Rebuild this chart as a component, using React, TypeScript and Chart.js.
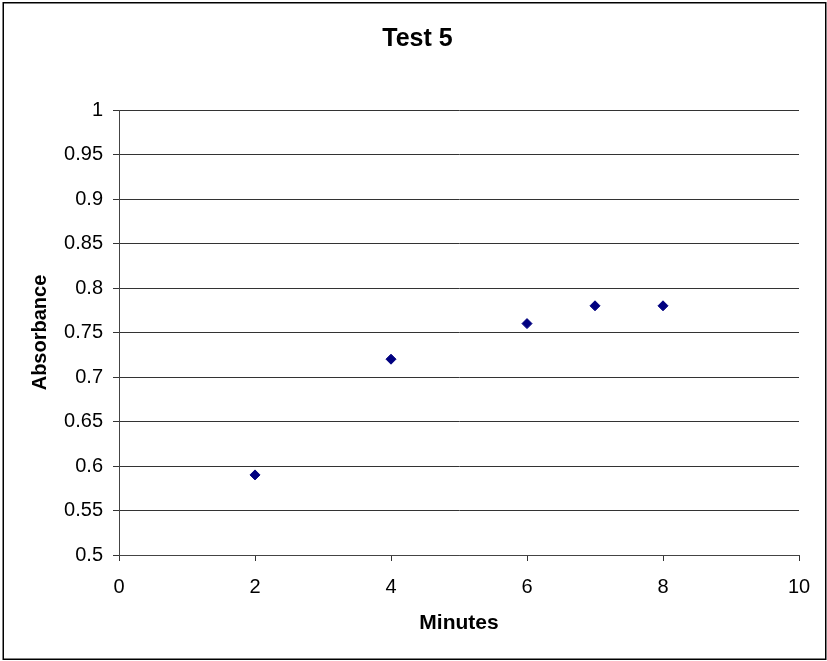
import React, { useEffect, useRef } from "react";
import { Chart, registerables } from "chart.js";

Chart.register(...registerables);

const chartTitle = "Test 5";
const xTitle = "Minutes";
const yTitle = "Absorbance";
const minutes = [2, 4, 6, 7, 8];
const absorbance = [0.59, 0.72, 0.76, 0.78, 0.78];
const xMin = 0;
const xMax = 10;
const xStep = 2;
const yMin = 0.5;
const yMax = 1;
const yStep = 0.05;

const FONT = "'Liberation Sans', Arial, Helvetica, sans-serif";

const borderPlugin = {
  id: "outerBorder",
  afterDraw(chart: any) {
    const ctx = chart.ctx;
    ctx.save();
    ctx.strokeStyle = "#000";
    ctx.lineWidth = 1.5;
    ctx.strokeRect(3.25, 2.75, 822.5, 656.5);
    ctx.restore();
  },
};

export default function App() {
  const ref = useRef<HTMLCanvasElement | null>(null);

  useEffect(() => {
    if (!ref.current) return;
    const chart = new Chart(ref.current, {
      type: "scatter",
      data: {
        datasets: [
          {
            label: yTitle,
            data: minutes.map((m, i) => ({ x: m, y: absorbance[i] })),
            pointStyle: "rectRot",
            pointRadius: 5,
            pointHoverRadius: 5,
            backgroundColor: "#000080",
            borderColor: "#000080",
            borderWidth: 1,
            showLine: false,
          },
        ],
      },
      options: {
        responsive: false,
        animation: false,
        events: [],
        layout: { padding: { left: 8, right: 0, top: 0, bottom: 0 } },
        plugins: {
          legend: { display: false },
          tooltip: { enabled: false },
          title: {
            display: true,
            text: chartTitle,
            color: "#000",
            font: { family: FONT, size: 25, weight: "bold" },
            padding: { top: 24.5, bottom: 55.5 },
          },
        },
        scales: {
          x: {
            type: "linear",
            min: xMin,
            max: xMax,
            afterFit: (s: any) => {
              s.height = 106;
            },
            ticks: {
              stepSize: xStep,
              color: "#000",
              font: { family: FONT, size: 20 },
              padding: 14,
              maxRotation: 0,
            },
            grid: {
              drawOnChartArea: false,
              drawTicks: true,
              tickLength: 6,
              color: "#333",
              lineWidth: 1,
            },
            border: { display: true, color: "#444", width: 1 },
            title: {
              display: true,
              text: xTitle,
              color: "#000",
              font: { family: FONT, size: 21, weight: "bold" },
              padding: { top: 0, bottom: 25 },
            },
          },
          y: {
            type: "linear",
            min: yMin,
            max: yMax,
            afterFit: (s: any) => {
              s.width = 111;
            },
            ticks: {
              stepSize: yStep,
              color: "#000",
              font: { family: FONT, size: 20 },
              padding: 10,
              callback: (v: any) => String(Number(Number(v).toFixed(2))),
            },
            grid: {
              drawOnChartArea: true,
              drawTicks: true,
              tickLength: 6,
              color: "#333",
              lineWidth: 1,
            },
            border: { display: true, color: "#444", width: 1 },
            title: {
              display: true,
              text: yTitle,
              color: "#000",
              font: { family: FONT, size: 20, weight: "bold" },
              padding: { top: 20, bottom: 0 },
            },
          },
          spacer: {
            type: "linear",
            position: "right",
            display: true,
            afterFit: (s: any) => {
              s.width = 28;
            },
            ticks: { display: false },
            grid: { display: false, drawTicks: false },
            border: { display: false },
            title: { display: false },
          },
        },
      },
      plugins: [borderPlugin],
    } as any);
    return () => chart.destroy();
  }, []);

  return (
    <div style={{ position: "absolute", left: 0, top: 0, width: 827, height: 661, background: "#fff" }}>
      <canvas ref={ref} width={827} height={661} style={{ display: "block", width: 827, height: 661 }} />
    </div>
  );
}
